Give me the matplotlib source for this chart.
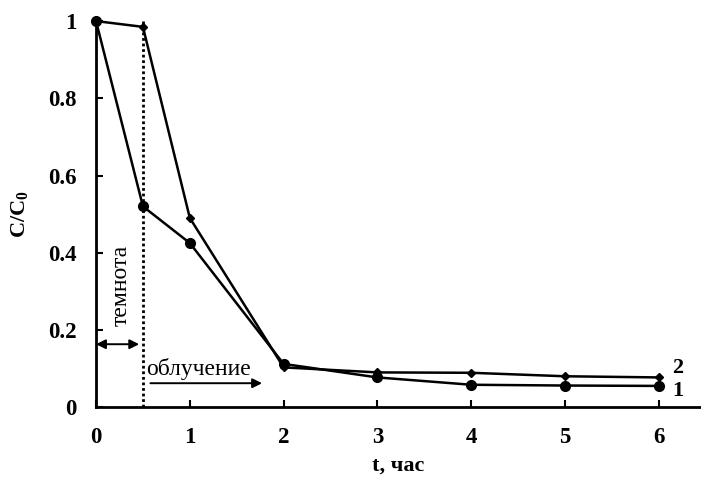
import matplotlib.pyplot as plt

plt.rcParams['font.family'] = ['Liberation Serif', 'DejaVu Serif']
plt.rcParams['font.weight'] = 'bold'
plt.rcParams['mathtext.fontset'] = 'custom'
plt.rcParams['mathtext.rm'] = 'Liberation Serif:bold'

# данные
t = [0, 0.5, 1, 2, 3, 4, 5, 6]
c1 = [1.0, 0.52, 0.425, 0.112, 0.077, 0.058, 0.056, 0.055]
c2 = [1.0, 0.985, 0.49, 0.103, 0.09, 0.089, 0.08, 0.077]
xticks = [0, 1, 2, 3, 4, 5, 6]
yticks = [0, 0.2, 0.4, 0.6, 0.8, 1]
ylabels = ['0', '0.2', '0.4', '0.6', '0.8', '1']

fig = plt.figure(figsize=(7.01, 4.79), dpi=100)
ax = fig.add_axes([0.137, 0.150, 0.863, 0.806])

ax.plot(t, c1, color='black', lw=1.8, marker='o', ms=7, clip_on=False, zorder=3)
ax.plot(t, c2, color='black', lw=1.8, marker='D', ms=4, clip_on=False, zorder=3)

# граница темнота / облучение
ax.plot([0.5, 0.5], [0, 1], color='black', lw=2, ls=(0, (1, 1)))
ax.annotate('', xy=(0.0, 0.163), xytext=(0.46, 0.163),
            arrowprops=dict(arrowstyle='<|-|>', color='black', lw=1.4,
                            mutation_scale=14, shrinkA=0, shrinkB=0))
ax.text(0.27, 0.315, 'темнота', rotation=90, ha='center', va='center',
        fontsize=17, fontweight='normal')
ax.text(0.53, 0.1, 'облучение', ha='left', va='center',
        fontsize=17, fontweight='normal')
ax.annotate('', xy=(1.77, 0.062), xytext=(0.58, 0.062),
            arrowprops=dict(arrowstyle='-|>', color='black', lw=1.4,
                            mutation_scale=14, shrinkA=0, shrinkB=0))

ax.text(6.14, 0.102, '2', ha='left', va='center', fontsize=16)
ax.text(6.14, 0.042, '1', ha='left', va='center', fontsize=16)

ax.set_xlim(0, 6.45)
ax.set_ylim(0, 1)
ax.set_xticks(xticks)
ax.set_yticks(yticks)
ax.set_yticklabels(ylabels)
ax.tick_params(direction='in', length=5, width=1.5, labelsize=16.5, pad=14)
for side in ['top', 'right']:
    ax.spines[side].set_visible(False)
for side in ['left', 'bottom']:
    ax.spines[side].set_linewidth(2)

ax.set_xlabel('t, час', fontsize=16, fontweight='bold', labelpad=6)
ax.set_ylabel(r'C/C$_\mathregular{0}$', fontsize=16, fontweight='bold', labelpad=12)

plt.savefig('out.png', dpi=100)
